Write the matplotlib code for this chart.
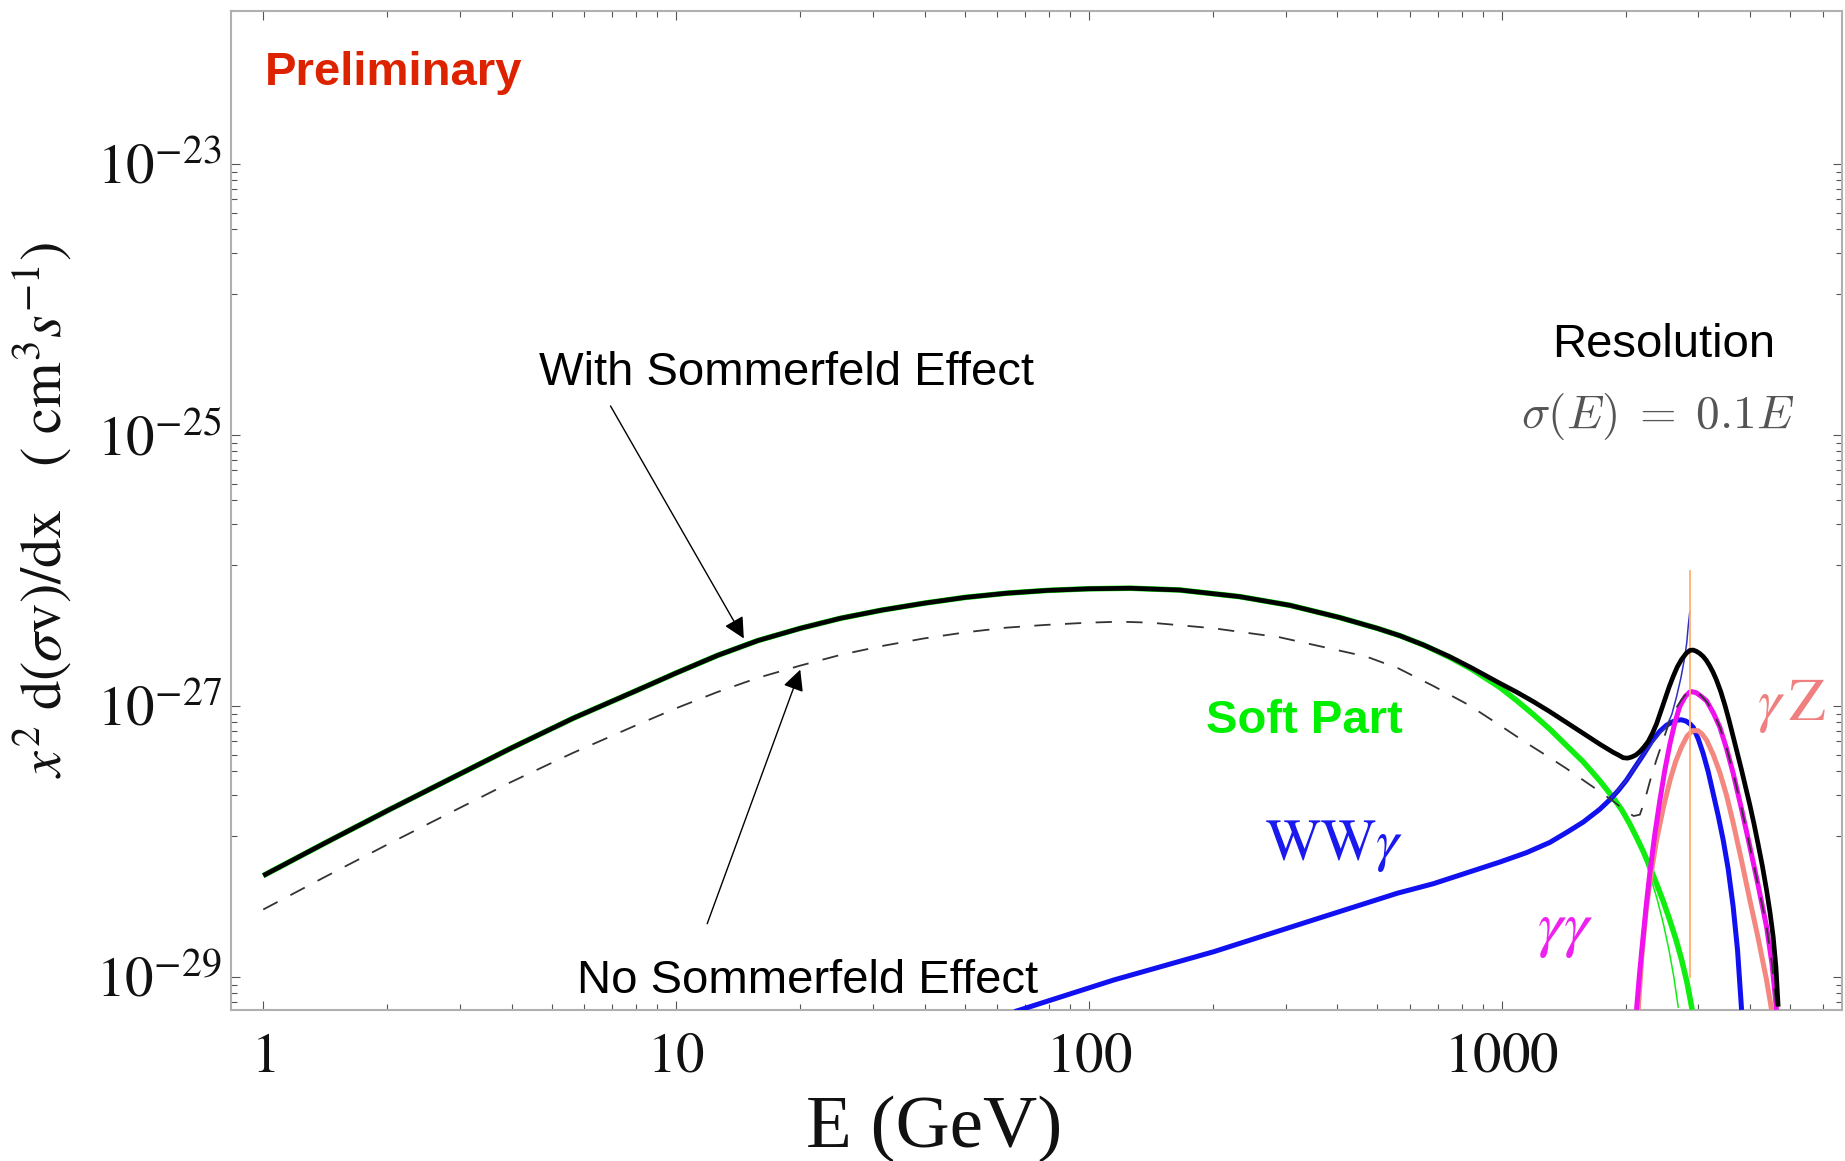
import numpy as np
import matplotlib
matplotlib.use("Agg")
import matplotlib.pyplot as plt
from matplotlib import transforms

plt.rcParams["mathtext.fontset"] = "stix"
plt.rcParams["font.family"] = ["Liberation Sans", "DejaVu Sans"]

# ---------------------------------------------------------------------------
# Photon spectra: energy E (GeV) and log10 of x^2 d(sigma v)/dx (cm^3 s^-1)
# ---------------------------------------------------------------------------
# total spectrum with Sommerfeld enhancement (smeared)
total_E = [1.0, 1.41, 2.0, 2.82, 3.98, 5.62, 7.94, 10, 12.6, 15.8,
           20, 25.1, 31.6, 39.8, 50.1, 63.1, 79.4, 100, 126, 166,
           232, 307, 405, 500, 568, 650, 750, 850, 990, 1087,
           1193, 1309, 1437, 1577, 1730, 1864, 1920, 1971, 2020, 2065,
           2115, 2163, 2215, 2266, 2320, 2374, 2430, 2487, 2545, 2605,
           2665, 2729, 2800, 2858, 2910, 2967, 3020, 3078, 3135, 3195,
           3255, 3316, 3395, 3475, 3555, 3640, 3725, 3814, 3900, 3995,
           4090, 4185, 4285, 4385, 4470, 4550, 4620, 4679]
total_log = [-28.25, -28.01, -27.77, -27.54, -27.31, -27.09, -26.89, -26.755, -26.625, -26.515,
             -26.425, -26.35, -26.29, -26.24, -26.197, -26.166, -26.145, -26.133, -26.129, -26.142,
             -26.191, -26.255, -26.345, -26.425, -26.48, -26.55, -26.635, -26.72, -26.83, -26.895,
             -26.965, -27.04, -27.12, -27.20, -27.28, -27.34, -27.36, -27.38, -27.383, -27.375,
             -27.36, -27.335, -27.30, -27.26, -27.20, -27.13, -27.04, -26.95, -26.86, -26.78,
             -26.71, -26.655, -26.61, -26.588, -26.585, -26.595, -26.61, -26.632, -26.662, -26.703,
             -26.75, -26.806, -26.89, -26.99, -27.10, -27.224, -27.345, -27.47, -27.595, -27.728,
             -27.87, -28.02, -28.18, -28.356, -28.52, -28.70, -28.92, -29.217]

# total spectrum without Sommerfeld enhancement
nosomm_E = [1.0, 1.41, 2.0, 2.82, 3.98, 5.62, 7.94, 10, 12.6, 15.8,
            20, 25.1, 31.6, 39.8, 50.1, 63.1, 78.3, 100, 119, 141,
            200, 290, 391, 471, 562, 683, 832, 990, 1148, 1309,
            1437, 1585, 1730, 1862, 2010, 2090, 2163, 2220, 2290, 2370,
            2464, 2540, 2605, 2729, 2800, 2886, 2960, 3040, 3138, 3260,
            3380, 3510, 3640, 3815, 3995, 4190, 4385, 4520, 4636]
nosomm_log = [-28.50, -28.26, -28.02, -27.79, -27.56, -27.345, -27.145, -27.015, -26.895, -26.79,
              -26.70, -26.62, -26.555, -26.50, -26.455, -26.42, -26.40, -26.383, -26.376, -26.383,
              -26.424, -26.491, -26.579, -26.634, -26.72, -26.85, -26.99, -27.14, -27.27, -27.38,
              -27.46, -27.55, -27.63, -27.70, -27.78, -27.81, -27.80, -27.70, -27.55, -27.40,
              -27.249, -27.13, -27.05, -26.95, -26.91, -26.89, -26.895, -26.92, -26.965, -27.045,
              -27.155, -27.31, -27.49, -27.755, -28.035, -28.33, -28.625, -28.90, -29.24]

# soft (continuum) part, smeared
soft_E = [1.0, 1.41, 2.0, 2.82, 3.98, 5.62, 7.94, 10, 12.6, 15.8,
          20, 25.1, 31.6, 39.8, 50.1, 63.1, 79.4, 100, 126, 166,
          232, 307, 405, 500, 568, 650, 750, 850, 990, 1090,
          1193, 1310, 1437, 1577, 1730, 1869, 1960, 2046, 2125, 2203,
          2290, 2374, 2465, 2557, 2645, 2730, 2815, 2896]
soft_log = [-28.25, -28.01, -27.77, -27.54, -27.31, -27.09, -26.89, -26.755, -26.625, -26.515,
            -26.425, -26.35, -26.29, -26.24, -26.197, -26.166, -26.145, -26.133, -26.129, -26.142,
            -26.191, -26.255, -26.345, -26.425, -26.48, -26.55, -26.64, -26.73, -26.86, -26.96,
            -27.06, -27.17, -27.29, -27.41, -27.55, -27.68, -27.77, -27.87, -27.97, -28.07,
            -28.19, -28.31, -28.44, -28.58, -28.72, -28.87, -29.04, -29.24]

# soft part before smearing
soft_line_E = [1869, 1960, 2046, 2125, 2203, 2290, 2380, 2464, 2545, 2615, 2679]
soft_line_log = [-27.68, -27.77, -27.87, -27.97, -28.08, -28.25, -28.42, -28.60,
                 -28.80, -29.00, -29.22]

# W W gamma channel, smeared
wwg_E = [66.1, 115, 201, 350, 559, 683, 990, 1150, 1309, 1440,
         1577, 1730, 1829, 1920, 2008, 2100, 2203, 2310, 2417, 2510,
         2604, 2670, 2729, 2800, 2860, 2912, 2995, 3078, 3165, 3255,
         3350, 3443, 3540, 3640, 3730, 3815]
wwg_log = [-29.254, -29.020, -28.811, -28.577, -28.380, -28.31, -28.15, -28.08, -28.005, -27.93,
           -27.855, -27.76, -27.69, -27.62, -27.545, -27.455, -27.36, -27.26, -27.185, -27.14,
           -27.113, -27.102, -27.10, -27.11, -27.13, -27.155, -27.24, -27.347, -27.48, -27.642,
           -27.81, -27.987, -28.20, -28.479, -28.80, -29.241]

# W W gamma channel before smearing
wwg_line_E = [1829, 2008, 2203, 2417, 2510, 2585, 2654, 2720, 2780, 2810, 2832, 2858]
wwg_line_log = [-27.69, -27.545, -27.36, -27.20, -27.15, -27.06, -26.93, -26.79,
                -26.634, -26.53, -26.413, -26.302]

# gamma gamma line, smeared
gg_E = [2123, 2160, 2203, 2245, 2287, 2350, 2417, 2487, 2557, 2630,
        2703, 2790, 2858, 2886, 2960, 3040, 3138, 3260, 3380, 3510,
        3640, 3815, 3995, 4190, 4385, 4520, 4636]
gg_log = [-29.24, -28.97, -28.70, -28.45, -28.23, -27.95, -27.70, -27.47, -27.28, -27.12,
          -27.00, -26.925, -26.895, -26.892, -26.90, -26.925, -26.96, -27.05, -27.155, -27.315,
          -27.494, -27.76, -28.036, -28.33, -28.627, -28.90, -29.24]

# gamma Z line, smeared
gz_E = [2143, 2190, 2245, 2310, 2374, 2465, 2557, 2640, 2729, 2815,
        2900, 2990, 3060, 3138, 3260, 3380, 3510, 3640, 3815, 3995,
        4190, 4385, 4510]
gz_log = [-29.24, -28.82, -28.48, -28.21, -27.99, -27.75, -27.55, -27.41, -27.30, -27.22,
          -27.18, -27.18, -27.205, -27.25, -27.36, -27.49, -27.66, -27.86, -28.14, -28.43,
          -28.72, -29.02, -29.24]

# unsmeared line position
line_E = [2858, 2858]
line_val = [1e-29, 1e-26]

x_major = [1, 10, 100, 1000]
x_major_labels = ["$1$", "$10$", "$100$", "$1000$"]
y_major = [1e-29, 1e-27, 1e-25, 1e-23]
y_major_labels = ["$10^{-29}$", "$10^{-27}$", "$10^{-25}$", "$10^{-23}$"]

BLACK = "#000000"
GREEN = "#10ee10"
BLUE = "#1010f0"
MAGENTA = "#f010f0"
SALMON = "#f4877f"
ORANGE = "#ffb070"

W, H = 1845, 1161
fig = plt.figure(figsize=(W / 100, H / 100), dpi=100)
fig.patch.set_facecolor("white")

x0, x1, y0, y1 = 230.7, 1842.0, 11.0, 1009.5
ax = fig.add_axes([x0 / W, 1 - y1 / H, (x1 - x0) / W, (y1 - y0) / H])
ax.set_xscale("log")
ax.set_yscale("log")

XLIM = (0.834, 6680)
YLIM = (10 ** -29.238, 10 ** -21.869)


def val(logs):
    return 10.0 ** np.asarray(logs)


line_kw = dict(solid_joinstyle="round", solid_capstyle="butt")
ax.plot(soft_E, val(soft_log), color=GREEN, lw=4.0, zorder=3, **line_kw)
ax.plot(soft_line_E, val(soft_line_log), color=GREEN, lw=1.1, zorder=3)
ax.plot(wwg_E, val(wwg_log), color=BLUE, lw=3.6, zorder=4, **line_kw)
ax.plot(wwg_line_E, val(wwg_line_log), color="#3030c0", lw=1.1, zorder=4)
ax.plot(gz_E, val(gz_log), color=SALMON, lw=3.6, zorder=4, **line_kw)
ax.plot(gg_E, val(gg_log), color=MAGENTA, lw=3.6, zorder=5, **line_kw)
ax.plot(line_E, line_val, color=ORANGE, lw=1.3, zorder=5)
ax.plot(nosomm_E, val(nosomm_log), color="#333333", lw=1.3,
        linestyle=(0, (9, 8)), zorder=6)
ax.plot(total_E, val(total_log), color=BLACK, lw=3.4, zorder=7, **line_kw)

# frame and ticks
for sp in ax.spines.values():
    sp.set_color("#b0b0b0")
    sp.set_linewidth(1.5)

x_minor = [k * 10 ** n for n in range(0, 4) for k in range(2, 10)
           if k * 10 ** n < XLIM[1]]
y_minor = [k * 0.11 * 10.0 ** e for e in (-23, -25, -27, -29)
           for k in range(1, 9)]
y_minor = [v for v in y_minor if v > YLIM[0]]
ax.set_xticks(x_major)
ax.set_xticks(x_minor, minor=True)
ax.set_yticks(y_major)
ax.set_yticks(y_minor, minor=True)
ax.set_xlim(*XLIM)
ax.set_ylim(*YLIM)
ax.tick_params(which="both", direction="in", top=True, right=True,
               labelbottom=False, labelleft=False, color="#555555")
ax.tick_params(which="major", length=6.5, width=0.8)
ax.tick_params(which="minor", length=4.3, width=0.8)

# tick labels
ytr = transforms.offset_copy(ax.get_yaxis_transform(), fig=fig,
                             x=-9, y=-19, units="dots")
for v, s in zip(y_major, y_major_labels):
    ax.text(0, v, s, transform=ytr, ha="right", va="baseline",
            fontsize=41, color="#111111")
xtr = transforms.offset_copy(ax.get_xaxis_transform(), fig=fig,
                             x=0, y=-62, units="dots")
for v, s in zip(x_major, x_major_labels):
    ax.text(v, 0, s, transform=xtr, ha="center", va="baseline",
            fontsize=41, color="#111111")


def ftext(x, y, s, **kw):
    fig.text(x / W, 1 - y / H, s, **kw)


# axis titles
ftext(806, 1147, "E (GeV)", ha="left", va="baseline", fontsize=54,
      family="Liberation Serif", color="#111111")
ftext(43, 510,
      r"$x^2\ \mathrm{d}(\sigma\mathrm{v})/\mathrm{dx}\quad(\ \mathrm{cm}^3 s^{-1})$",
      ha="center", va="center", rotation=90, fontsize=42, color="#111111")

# annotations
ftext(265, 85, "Preliminary", ha="left", va="baseline", fontsize=34,
      fontweight="bold", color="#dd2200")
ftext(539, 385, "With Sommerfeld Effect", ha="left", va="baseline",
      fontsize=34, color=BLACK)
ftext(577, 993, "No Sommerfeld Effect", ha="left", va="baseline",
      fontsize=34, color=BLACK)
ftext(1552, 357, "Resolution", ha="left", va="baseline", fontsize=34,
      color=BLACK)
ftext(1521, 428, r"$\sigma(E)\;=\;0.1E$", ha="left", va="baseline",
      fontsize=34, color="#555555", math_fontfamily="cm")
ftext(1206, 733, "Soft Part", ha="left", va="baseline", fontsize=34,
      fontweight="bold", color="#00ee00")
ftext(1265, 860, r"$\mathrm{WW}\gamma$", ha="left", va="baseline",
      fontsize=42, color="#1a1aee")
ftext(1537, 945, r"$\gamma\gamma$", ha="left", va="baseline", fontsize=46,
      color="#ee22ee")
ftext(1757, 720, r"$\gamma\,\mathrm{Z}$", ha="left", va="baseline",
      fontsize=43, color="#f08080")

arrow_kw = dict(arrowstyle="-|>", color=BLACK, lw=1.0, mutation_scale=32,
                shrinkA=0, shrinkB=0)
ax.annotate("", xy=(14.6, 10 ** -26.50), xytext=(6.94, 10 ** -24.784),
            arrowprops=arrow_kw, zorder=8)
ax.annotate("", xy=(20.0, 10 ** -26.73), xytext=(11.9, 10 ** -28.605),
            arrowprops=arrow_kw, zorder=8)

fig.savefig("out.png", dpi=100, facecolor="white")
